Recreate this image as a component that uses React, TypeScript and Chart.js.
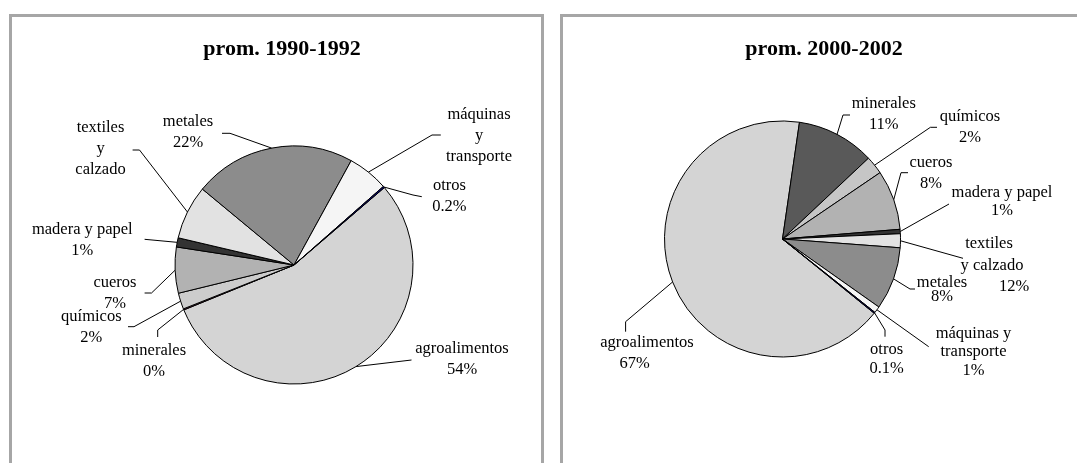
import React, { useEffect, useRef } from "react";
import { Chart, registerables } from "chart.js";

Chart.register(...registerables);

// ---------------- DATA ----------------
const categories = [
  "agroalimentos",
  "minerales",
  "químicos",
  "cueros",
  "madera y papel",
  "textiles y calzado",
  "metales",
  "máquinas y transporte",
  "otros",
];

const shares1990 = [55.2, 0.15, 2.2, 6.25, 1.25, 7.35, 22.0, 5.55, 0.2];
const shares2000 = [66.5, 10.7, 2.5, 8.2, 0.6, 1.9, 8.6, 0.9, 0.15];

const pctLabels1990 = ["54%", "0%", "2%", "7%", "1%", "", "22%", "", "0.2%"];
const pctLabels2000 = ["67%", "11%", "2%", "8%", "1%", "12%", "8%", "1%", "0.1%"];

const nameLines1990 = [
  ["agroalimentos"],
  ["minerales"],
  ["químicos"],
  ["cueros"],
  ["madera y papel"],
  ["textiles", "y", "calzado"],
  ["metales"],
  ["máquinas", "y", "transporte"],
  ["otros"],
];
const nameLines2000 = [
  ["agroalimentos"],
  ["minerales"],
  ["químicos"],
  ["cueros"],
  ["madera y papel"],
  ["textiles", "y calzado"],
  ["metales"],
  ["máquinas y", "transporte"],
  ["otros"],
];

const title1990 = "prom. 1990-1992";
const title2000 = "prom. 2000-2002";

// ---------------- STYLE ----------------
const colors1990 = ["#d4d4d4", "#7a1f4f", "#cccccc", "#b2b2b2", "#333333", "#e2e2e2", "#8c8c8c", "#f5f5f5", "#000080"];
const colors2000 = ["#d4d4d4", "#595959", "#c6c6c6", "#b2b2b2", "#333333", "#e2e2e2", "#8c8c8c", "#f5f5f5", "#000080"];

const SERIF = '"Liberation Serif", "Times New Roman", serif';

type Spec = { dx: number; dy: number; lh?: number; lineDx?: number[]; leader: number[][] };

// label placement relative to pie centre (px)
const layout1990: Spec[] = [
  { dx: 168, dy: 84, leader: [[117.5, 95]] },
  { dx: -140, dy: 85.7, leader: [[-136.3, 72], [-136.3, 65]] },
  { dx: -202.7, dy: 51.7, leader: [[-166, 61.7], [-160, 61.7]] },
  { dx: -179, dy: 18, leader: [[-149.4, 28], [-142.5, 28]] },
  { dx: -211.7, dy: -35, leader: [[-149.4, -25.7]] },
  { dx: -193.5, dy: -137, leader: [[-161.4, -115], [-154.5, -115]] },
  { dx: -106, dy: -143, leader: [[-72, -131.7], [-64, -131.7]] },
  { dx: 185, dy: -150, leader: [[146.8, -130], [138, -130]] },
  { dx: 155.4, dy: -79.3, leader: [[127.8, -68.3], [119, -70]] },
];

const layout2000: Spec[] = [
  { dx: -135.5, dy: 103.7, lineDx: [0, -12.5], leader: [[-156.9, 92.7], [-156.9, 82.7]] },
  { dx: 101.3, dy: -135.7, leader: [[67.5, -124], [60.5, -124]] },
  { dx: 187.5, dy: -122.3, leader: [[154.5, -111.7], [147.9, -111.7]] },
  { dx: 148.5, dy: -76.3, leader: [[125.5, -66.3], [118.5, -66.3]] },
  { dx: 219.5, dy: -46, lh: 18, leader: [[166.5, -35]] },
  { dx: 206.5, dy: 5, lh: 21.5, lineDx: [0, 3, 25], leader: [[180.5, 19.3]] },
  { dx: 159.5, dy: 43.7, lh: 14, leader: [[132.5, 50], [127.5, 50]] },
  { dx: 191, dy: 94.3, lh: 18.7, leader: [[146.2, 107.7]] },
  { dx: 104.1, dy: 110.3, lh: 19, leader: [[102.5, 97.7], [102.5, 91]] },
];

const labelPlugin = {
  id: "pieLabels",
  afterDatasetsDraw(chart: any, _args: any, opts: any) {
    const { ctx } = chart;
    const meta = chart.getDatasetMeta(0);
    ctx.save();
    // title
    ctx.fillStyle = "#000";
    ctx.textAlign = "center";
    ctx.textBaseline = "middle";
    ctx.font = `bold 22px ${SERIF}`;
    ctx.fillText(opts.title, opts.titleX, opts.titleY);

    ctx.font = `16.5px ${SERIF}`;
    ctx.strokeStyle = "#000";
    ctx.lineWidth = 1;
    meta.data.forEach((arc: any, i: number) => {
      const spec: Spec = opts.layout[i];
      const p = arc.getProps(["x", "y", "startAngle", "endAngle", "outerRadius"], true);
      const mid = (p.startAngle + p.endAngle) / 2;
      const ex = p.x + Math.cos(mid) * p.outerRadius;
      const ey = p.y + Math.sin(mid) * p.outerRadius;
      ctx.beginPath();
      ctx.moveTo(ex, ey);
      for (let k = spec.leader.length - 1; k >= 0; k--) {
        ctx.lineTo(p.x + spec.leader[k][0], p.y + spec.leader[k][1]);
      }
      ctx.stroke();
      const lines = [...opts.names[i]];
      if (opts.pcts[i]) lines.push(opts.pcts[i]);
      const lh = spec.lh ?? 21;
      lines.forEach((t: string, j: number) => {
        const sx = spec.lineDx ? spec.lineDx[j] || 0 : 0;
        ctx.fillText(t, p.x + spec.dx + sx, p.y + spec.dy + j * lh);
      });
    });
    ctx.restore();
  },
};

type PieProps = {
  values: number[];
  colors: string[];
  names: string[][];
  pcts: string[];
  layout: Spec[];
  title: string;
  rotation: number;
  width: number;
  height: number;
  cx: number;
  cy: number;
  r: number;
  titleX: number;
  titleY: number;
};

function PieCanvas(props: PieProps) {
  const ref = useRef<HTMLCanvasElement | null>(null);
  useEffect(() => {
    if (!ref.current) return;
    const size = 2 * props.r + 1;
    const left = props.cx - size / 2;
    const top = props.cy - size / 2;
    const chart = new Chart(ref.current, {
      type: "pie",
      data: {
        labels: categories,
        datasets: [
          {
            data: props.values,
            backgroundColor: props.colors,
            borderColor: "#000",
            borderWidth: 1,
          },
        ],
      },
      options: {
        responsive: false,
        animation: false,
        rotation: props.rotation,
        layout: {
          padding: {
            left,
            top,
            right: props.width - left - size,
            bottom: props.height - top - size,
          },
        },
        plugins: {
          legend: { display: false },
          tooltip: { enabled: false },
          title: { display: false },
          pieLabels: {
            layout: props.layout,
            names: props.names,
            pcts: props.pcts,
            title: props.title,
            titleX: props.titleX,
            titleY: props.titleY,
          },
        } as any,
      },
      plugins: [labelPlugin as any],
    });
    return () => chart.destroy();
  }, []);
  return (
    <canvas
      ref={ref}
      width={props.width}
      height={props.height}
      style={{ display: "block", width: props.width, height: props.height }}
    />
  );
}

const panelStyle = (left: number): React.CSSProperties => ({
  position: "absolute",
  left,
  top: 14,
  width: 535,
  height: 470,
  boxSizing: "border-box",
  borderTop: "3px solid #a6a6a6",
  borderLeft: "3px solid #a6a6a6",
  borderRight: "3px solid #a6a6a6",
  background: "#fff",
  overflow: "hidden",
});

export default function App() {
  return (
    <div
      style={{
        position: "fixed",
        left: 0,
        top: 0,
        width: 1077,
        height: 463,
        overflow: "hidden",
        background: "#fff",
      }}
    >
      <div style={panelStyle(9)}>
        <PieCanvas
          values={shares1990}
          colors={colors1990}
          names={nameLines1990}
          pcts={pctLabels1990}
          layout={layout1990}
          title={title1990}
          rotation={49.4}
          width={529}
          height={446}
          cx={282}
          cy={248}
          r={119}
          titleX={270}
          titleY={32}
        />
      </div>
      <div style={panelStyle(560)}>
        <PieCanvas
          values={shares2000}
          colors={colors2000}
          names={nameLines2000}
          pcts={pctLabels2000}
          layout={layout2000}
          title={title2000}
          rotation={129}
          width={529}
          height={446}
          cx={219.5}
          cy={222}
          r={118}
          titleX={261}
          titleY={32}
        />
      </div>
    </div>
  );
}
